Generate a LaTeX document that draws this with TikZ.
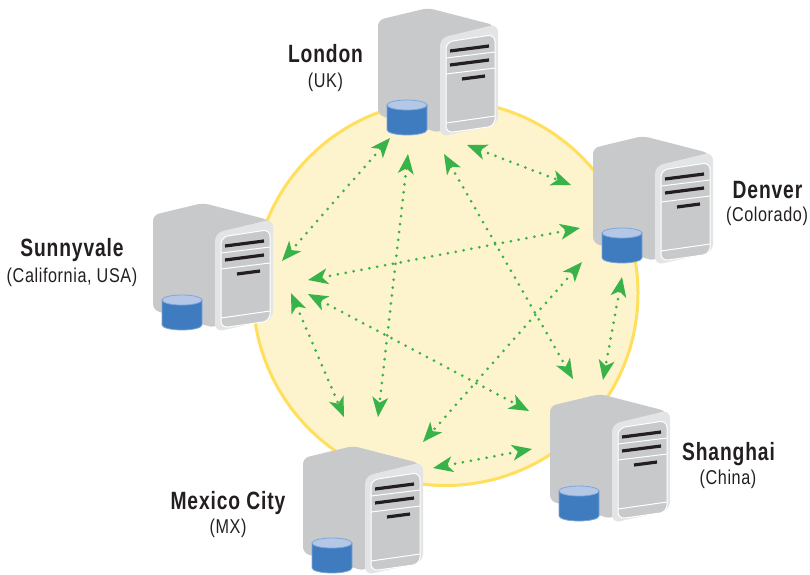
\documentclass[tikz,border=0pt]{standalone}
\usepackage{fontspec}
\setmainfont{Liberation Sans}
\newfontfamily\cityfont[FakeStretch=0.77,LetterSpace=3.5]{Liberation Sans}
\newfontfamily\regionfont[FakeStretch=0.81,LetterSpace=3]{Liberation Sans}
\usetikzlibrary{arrows.meta}
\definecolor{disc}{HTML}{FDF3CC}
\definecolor{ring}{HTML}{FFDF5C}
\definecolor{bodygray}{HTML}{C8C9CB}
\definecolor{facegray}{HTML}{E2E4E6}
\definecolor{bar}{HTML}{231F20}
\definecolor{cyl}{HTML}{3F7CBF}
\definecolor{cyltop}{HTML}{B5C7E6}
\definecolor{cylrim}{HTML}{7FA6DA}
\definecolor{link}{HTML}{37B34A}
\tikzset{
  x=1pt,y=-1pt,
  city/.style={font=\fontsize{25}{26}\cityfont\bfseries,text=bar,inner sep=0pt,anchor=base},
  region/.style={font=\fontsize{20}{21}\regionfont,text=bar,inner sep=0pt,anchor=base},
  linkline/.style={link,line width=3pt,line cap=round,dash pattern=on 0pt off 8pt,
    {Stealth[length=20pt,width=16pt,inset=5.5pt,line width=0pt,sep=0pt]}-{Stealth[length=20pt,width=16pt,inset=5.5pt,line width=0pt,sep=0pt]}},
  server/.pic={
    % body
    \fill[bodygray,rounded corners=6pt] (0,12) -- (50,0) -- (116,17) -- (120,60) -- (62,125) -- (0,107) -- cycle;
    % face
    \fill[facegray,rounded corners=8pt] (62,30) -- (120,16) -- (120,116) -- (62,129) -- cycle;
    % inner panel
    \filldraw[bodygray,draw=white,line width=1pt,rounded corners=7pt] (68,34) -- (117,26.5) -- (117,118) -- (68,125) -- cycle;
    \draw[white,line width=1pt] (68,50) -- (117,44) (68,66) -- (117,60) (68,115) -- (117,108);
    \draw[bar,line width=3.2pt] (72,43) -- (111,38) (72,57) -- (111,52) (84,71) -- (107,68);
    % disk
    \filldraw[cyl,draw=cylrim,line width=.8pt] (9,97) -- (9,122) arc[start angle=180,end angle=0,x radius=20,y radius=5] -- (49,97) -- cycle;
    \filldraw[cyltop,draw=cylrim,line width=.8pt] (29,97) ellipse[x radius=20,y radius=5];
  }
}
\begin{document}
\begin{tikzpicture}
\useasboundingbox (0,0) rectangle (810,574);
\filldraw[disc,draw=ring,line width=3pt] (445.5,293) circle[radius=192.5];

\pic (london) at (378,8) {server};
\pic (denver) at (593,136) {server};
\pic (shanghai) at (550,394) {server};
\pic (mexico) at (303,446) {server};
\pic (sunnyvale) at (153,203) {server};

\coordinate (a1) at (390,138); \coordinate (b1) at (282,261);
\coordinate (a2) at (408,154); \coordinate (b2) at (378,417);
\coordinate (a3) at (444,154); \coordinate (b3) at (573,379);
\coordinate (a4) at (467,145); \coordinate (b4) at (571,185);
\coordinate (a5) at (580,228); \coordinate (b5) at (308,280);
\coordinate (a6) at (582,262); \coordinate (b6) at (423,442);
\coordinate (a7) at (308,294); \coordinate (b7) at (529,411);
\coordinate (a8) at (291,293); \coordinate (b8) at (344,417);
\coordinate (a9) at (622,277); \coordinate (b9) at (603,380);
\coordinate (a10) at (433,468); \coordinate (b10) at (532,449);
\foreach \i in {1,...,10} \draw[linkline] (a\i) -- (b\i);

\node[city] (l1) at (325.5,62) {London};
\node[region] (l2) at (325.5,87) {(UK)};
\node[city] (d1) at (767.5,198) {Denver};
\node[region] (d2) at (767,221) {(Colorado)};
\node[city] (s1) at (72,256) {Sunnyvale};
\node[region] (s2) at (72,282) {(California, USA)};
\node[city] (c1) at (728.5,460) {Shanghai};
\node[region] (c2) at (728,484) {(China)};
\node[city] (m1) at (228,509) {Mexico City};
\node[region] (m2) at (228,533) {(MX)};
\end{tikzpicture}
\end{document}
